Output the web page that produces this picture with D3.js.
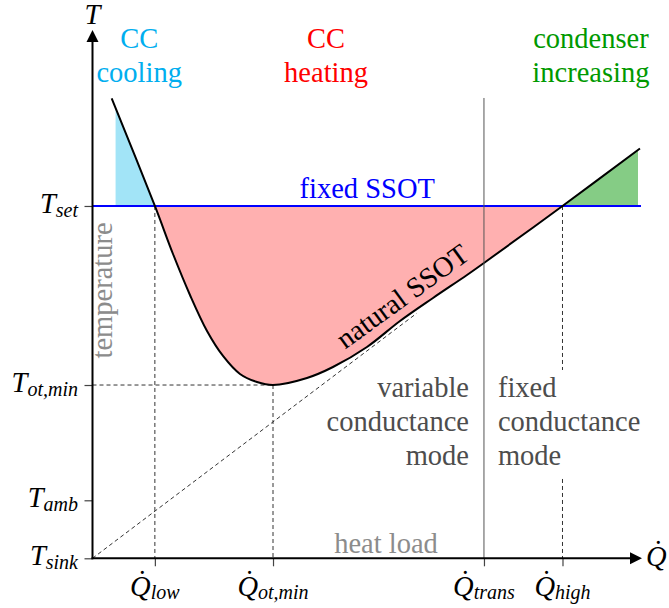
<!DOCTYPE html>
<html>
<head>
<meta charset="utf-8">
<script src="https://cdn.jsdelivr.net/npm/d3@7"></script>
<style>
  body { margin: 0; background: #fff; }
  text { font-family: "Liberation Serif", "DejaVu Serif", serif; }
</style>
</head>
<body>
<div id="chart"></div>
<script>
// natural SSOT curve (heat load Q, temperature T in arbitrary units)
const curveQ = [0.349, 1.135, 1.465, 1.774, 2.084, 2.375, 2.684, 2.994, 3.285, 3.903, 4.376, 4.995, 5.596, 6.197, 6.815, 7.124, 8.553, 9.963];
const curveT = [8.707, 6.669, 5.760, 4.984, 4.303, 3.830, 3.489, 3.337, 3.280, 3.413, 3.621, 4.000, 4.492, 4.928, 5.363, 5.590, 6.669, 7.757];

const qTicks = [1.135, 3.285, 7.124, 8.553];
const qTickSubs = ["low", "ot,min", "trans", "high"];
const tTicks = [6.669, 3.280, 1.098, 0];
const tTickSubs = ["set", "ot,min", "amb", "sink"];

const tSet = 6.669, tOtMin = 3.280;
const qLow = 1.135, qOtMin = 3.285, qTrans = 7.124, qHigh = 8.553;
const sinkSlope = 0.786, sinkEndQ = 5.9;
const coolingFrom = 0.42, increasingTo = 9.927;
const transTop = 8.713;

const topLabels = [
  { lines: ["CC", "cooling"], q: 0.85, color: "#00aeef" },
  { lines: ["CC", "heating"], q: 4.25, color: "#ff0000" },
  { lines: ["condenser", "increasing"], q: 9.07, color: "#009900" }
];
const varModeLines = ["variable", "conductance", "mode"];
const fixModeLines = ["fixed", "conductance", "mode"];

const width = 669, height = 608;
const fs = 28.5;
const x = d3.scaleLinear().domain([0, 10]).range([92.5, 642]);
const y = d3.scaleLinear().domain([0, 10]).range([558.3, 30]);

const svg = d3.select("#chart").append("svg")
  .attr("width", width)
  .attr("height", height);

svg.append("rect").attr("width", width).attr("height", height).attr("fill", "#fff");

const pts = curveQ.map((q, i) => ({ q, t: curveT[i] }));
const smooth = d3.curveCatmullRom.alpha(0.5);

// filled regions between the curve and T_set
const area = d3.area()
  .x(d => x(d.q))
  .y0(y(tSet))
  .y1(d => y(d.t))
  .curve(smooth);

const regions = [
  { id: "clipCool", from: coolingFrom, to: qLow, fill: "#a2e4f7" },
  { id: "clipHeat", from: qLow, to: qHigh, fill: "#ffb0b0" },
  { id: "clipCond", from: qHigh, to: increasingTo, fill: "#85cc85" }
];
const defs = svg.append("defs");
regions.forEach(r => {
  defs.append("clipPath").attr("id", r.id)
    .append("rect")
    .attr("x", x(r.from)).attr("y", 0)
    .attr("width", x(r.to) - x(r.from)).attr("height", height);
  svg.append("path")
    .datum(pts)
    .attr("d", area)
    .attr("fill", r.fill)
    .attr("clip-path", `url(#${r.id})`);
});

// dashed guide lines
const dashed = svg.append("g")
  .attr("stroke", "#333")
  .attr("stroke-width", 1)
  .attr("stroke-dasharray", "4,3")
  .attr("fill", "none");

const guides = [
  [[0, tOtMin], [qOtMin, tOtMin]],
  [[qLow, tSet], [qLow, 0]],
  [[qOtMin, tOtMin], [qOtMin, 0]],
  [[qHigh, tSet], [qHigh, 0]],
  [[0, 0], [sinkEndQ, sinkSlope * sinkEndQ]]
];
guides.forEach(g => {
  dashed.append("line")
    .attr("x1", x(g[0][0])).attr("y1", y(g[0][1]))
    .attr("x2", x(g[1][0])).attr("y2", y(g[1][1]));
});

// fixed SSOT line
svg.append("line")
  .attr("x1", x(0)).attr("x2", x(increasingTo) + 3)
  .attr("y1", y(tSet)).attr("y2", y(tSet))
  .attr("stroke", "#0000ff")
  .attr("stroke-width", 2);

svg.append("text")
  .attr("x", x(5.0)).attr("y", 198)
  .attr("text-anchor", "middle")
  .attr("font-size", fs)
  .attr("fill", "#0000ff")
  .text("fixed SSOT");

// natural SSOT curve
svg.append("path")
  .datum(pts)
  .attr("d", d3.line().x(d => x(d.q)).y(d => y(d.t)).curve(smooth))
  .attr("fill", "none")
  .attr("stroke", "#000")
  .attr("stroke-width", 2);

svg.append("text")
  .attr("transform", "translate(408,304) rotate(-36)")
  .attr("text-anchor", "middle")
  .attr("font-size", fs)
  .attr("fill", "#000")
  .text("natural SSOT");

// white box behind the fixed conductance text
svg.append("rect")
  .attr("x", x(qTrans) + 9).attr("y", 370)
  .attr("width", 150).attr("height", 106)
  .attr("fill", "#fff");

svg.append("line")
  .attr("x1", x(qTrans)).attr("x2", x(qTrans))
  .attr("y1", y(transTop)).attr("y2", y(0))
  .attr("stroke", "#555")
  .attr("stroke-width", 1);

varModeLines.forEach((s, i) => {
  svg.append("text")
    .attr("x", x(qTrans) - 15).attr("y", 397 + i * 34)
    .attr("text-anchor", "end")
    .attr("font-size", fs)
    .attr("fill", "#4d4d4d")
    .text(s);
});
fixModeLines.forEach((s, i) => {
  svg.append("text")
    .attr("x", x(qTrans) + 14).attr("y", 397 + i * 34)
    .attr("text-anchor", "start")
    .attr("font-size", fs)
    .attr("fill", "#4d4d4d")
    .text(s);
});

// top annotations
topLabels.forEach(l => {
  l.lines.forEach((s, i) => {
    svg.append("text")
      .attr("x", x(l.q)).attr("y", 48 + i * 34)
      .attr("text-anchor", "middle")
      .attr("font-size", fs)
      .attr("fill", l.color)
      .text(s);
  });
});

// axis titles
svg.append("text")
  .attr("transform", `translate(112,${y(5.07)}) rotate(-90)`)
  .attr("text-anchor", "middle")
  .attr("font-size", fs)
  .attr("fill", "#8c8c8c")
  .text("temperature");

svg.append("text")
  .attr("x", 386).attr("y", 553)
  .attr("text-anchor", "middle")
  .attr("font-size", fs)
  .attr("fill", "#8c8c8c")
  .text("heat load");

// ticks
const yAxis = svg.append("g")
  .attr("transform", `translate(${x(0)},0)`)
  .call(d3.axisLeft(y).tickValues(tTicks).tickSize(8).tickFormat(""));
const xAxis = svg.append("g")
  .attr("transform", `translate(0,${y(0)})`)
  .call(d3.axisBottom(x).tickValues(qTicks).tickSize(8).tickFormat(""));
[yAxis, xAxis].forEach(a => {
  a.select(".domain").remove();
  a.selectAll(".tick line").attr("stroke", "#444").attr("stroke-width", 1.2);
});

// axes with arrows
svg.append("line")
  .attr("x1", x(0)).attr("x2", x(0))
  .attr("y1", y(0) + 1).attr("y2", y(10) + 11)
  .attr("stroke", "#000").attr("stroke-width", 2);
svg.append("line")
  .attr("x1", x(0) - 1).attr("x2", x(10) - 11)
  .attr("y1", y(0)).attr("y2", y(0))
  .attr("stroke", "#000").attr("stroke-width", 2);
svg.append("path")
  .attr("d", `M${x(0)},${y(10)} L${x(0) - 6},${y(10) + 12} L${x(0) + 6},${y(10) + 12} Z`)
  .attr("fill", "#000");
svg.append("path")
  .attr("d", `M${x(10)},${y(0)} L${x(10) - 12},${y(0) - 6} L${x(10) - 12},${y(0) + 6} Z`)
  .attr("fill", "#000");

svg.append("text")
  .attr("x", x(0)).attr("y", 24)
  .attr("text-anchor", "middle")
  .attr("font-size", fs)
  .attr("font-style", "italic")
  .text("T");

svg.append("text")
  .attr("x", 646).attr("y", 566)
  .attr("font-size", fs)
  .attr("font-style", "italic")
  .text("Q\u0307");

// tick labels
tTicks.forEach((t, i) => {
  const txt = svg.append("text")
    .attr("x", 78).attr("y", y(t) + 7)
    .attr("text-anchor", "end")
    .attr("font-size", fs)
    .attr("font-style", "italic");
  txt.append("tspan").text("T");
  txt.append("tspan").attr("dy", 4).attr("font-size", 20).text(tTickSubs[i]);
});

qTicks.forEach((q, i) => {
  const txt = svg.append("text")
    .attr("x", x(q)).attr("y", 596)
    .attr("text-anchor", "middle")
    .attr("font-size", fs)
    .attr("font-style", "italic");
  txt.append("tspan").text("Q\u0307");
  txt.append("tspan").attr("dy", 3).attr("font-size", 20).text(qTickSubs[i]);
});
</script>
</body>
</html>
